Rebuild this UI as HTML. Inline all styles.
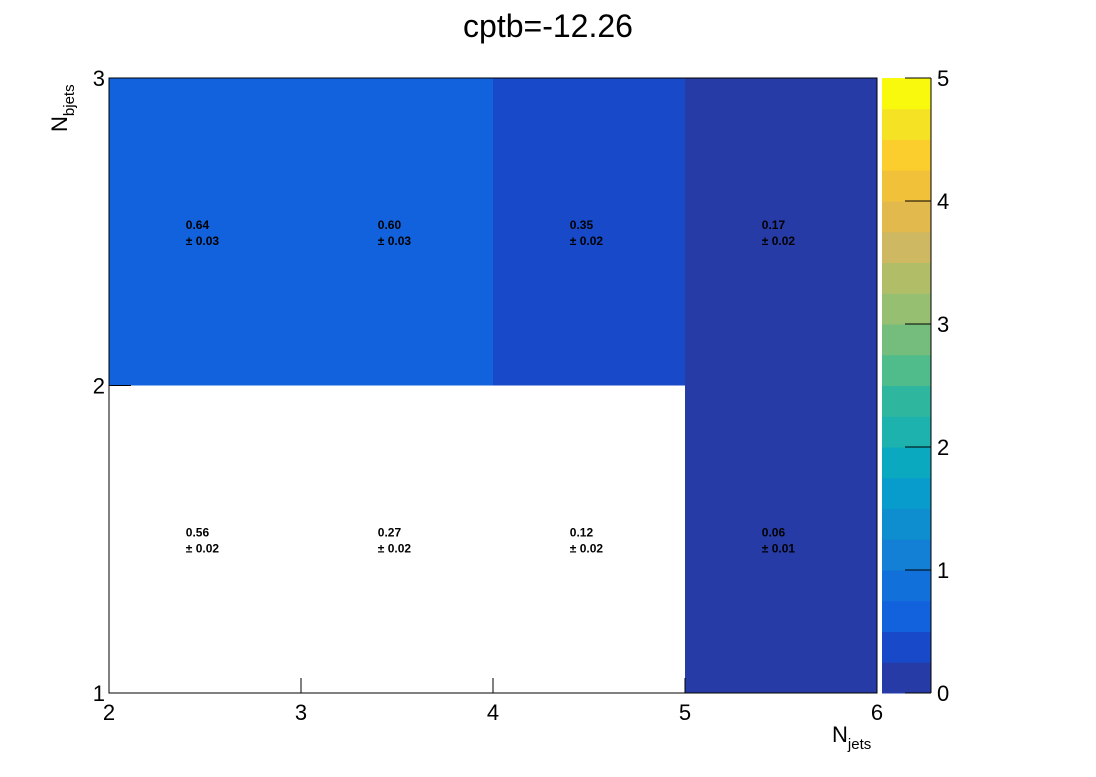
<!DOCTYPE html>
<html><head><meta charset="utf-8"><style>
body{margin:0;background:#fff;font-family:"Liberation Sans",sans-serif}
svg text{font-family:"Liberation Sans",sans-serif}
</style></head><body>
<svg id="c" width="1096" height="772">
<text x="548" y="37" font-size="32" text-anchor="middle">cptb=-12.26</text>
</svg>
<script>
const xEdges=[2,3,4,5,6];
const yEdges=[1,2,3];
const values=[[0.56,0.27,0.12,0.06],[0.64,0.60,0.35,0.17]];
const errors=[["0.02","0.02","0.02","0.01"],["0.03","0.03","0.02","0.02"]];
const drawn=[[false,false,false,true],[true,true,true,true]];
const xTicks=[2,3,4,5,6];
const yTicks=[1,2,3];
const zTicks=[0,1,2,3,4,5];
const palette=["#273ba6","#1849c9","#1162dc","#1270db","#1380d6","#0e8ece","#079ccc","#0aa9c0","#1db2ae","#2eb79e","#50bb8b","#75bd7c","#97bf72","#b2bd68","#cfb862","#e2b94d","#f2c13a","#fbcd2d","#f6e224","#f9f90e"];
const svg=document.getElementById('c');const NS='http://www.w3.org/2000/svg';
const L=109,R=877,T=78,B=693,zMin=0,zMax=5,PL=882,PR=931;
const sx=v=>L+(v-2)/(6-2)*(R-L);
const sy=v=>B-(v-1)/(3-1)*(B-T);
const sz=v=>B-(v-zMin)/(zMax-zMin)*(B-T);
function mk(t,a){const e=document.createElementNS(NS,t);for(const k in a)e.setAttribute(k,a[k]);svg.appendChild(e);return e;}
function col(v){let i=Math.floor((v-zMin)/(zMax-zMin)*palette.length);return palette[Math.max(0,Math.min(palette.length-1,i))];}
for(let j=0;j<values.length;j++)for(let i=0;i<values[j].length;i++){
 const x0=sx(xEdges[i]),x1=sx(xEdges[i+1]),y0=sy(yEdges[j+1]),y1=sy(yEdges[j]);
 if(drawn[j][i]){const r=mk('rect',{x:x0,y:y0,width:x1-x0,height:y1-y0,fill:col(values[j][i])});
 
 }
 const cx=x0+(x1-x0)*0.4,cy=(y0+y1)/2;
 const t=mk('text',{x:cx,y:cy-3,'font-size':12,'font-weight':'bold'});t.textContent=values[j][i].toFixed(2);
 
 
 const t2=mk('text',{x:cx,y:cy+13,'font-size':12,'font-weight':'bold'});t2.textContent='± '+errors[j][i];
 
 
}
const fr=mk('rect',{x:L,y:T,width:R-L,height:B-T,fill:'none',stroke:'#000','stroke-width':1});


xTicks.forEach(v=>{const x=sx(v);mk('line',{x1:x,x2:x,y1:B,y2:B-15,stroke:'#000'});
 const t=mk('text',{x:x,y:B+27,'font-size':22,'text-anchor':'middle'});t.textContent=v;
 
 });
yTicks.forEach(v=>{const y=sy(v);mk('line',{x1:L,x2:L+22,y1:y,y2:y,stroke:'#000'});
 const t=mk('text',{x:L-4,y:y+8,'font-size':22,'text-anchor':'end'});t.textContent=v;
 
 });
palette.forEach((c,i)=>{const v0=zMin+i*(zMax-zMin)/palette.length,v1=zMin+(i+1)*(zMax-zMin)/palette.length;
 const r=mk('rect',{x:PL,y:sz(v1),width:PR-PL,height:sz(v0)-sz(v1)+0.5,fill:c});
 
 });
mk('line',{x1:PR,x2:PR,y1:T,y2:B,stroke:'#000'});
zTicks.forEach(v=>{const y=sz(v);mk('line',{x1:PR,x2:PR-26,y1:y,y2:y,stroke:'#000'});
 const t=mk('text',{x:PR+6,y:y+8,'font-size':22});t.textContent=v;
 
 });
</script>
<svg style="position:absolute;left:0;top:0" width="1096" height="772">
<text x="832" y="742" font-size="22" font-family="Liberation Sans">N<tspan font-size="15" dy="7">jets</tspan></text>
<text transform="translate(67,132) rotate(-90)" font-size="22" font-family="Liberation Sans">N<tspan font-size="15" dy="7">bjets</tspan></text>
</svg>
</body></html>
